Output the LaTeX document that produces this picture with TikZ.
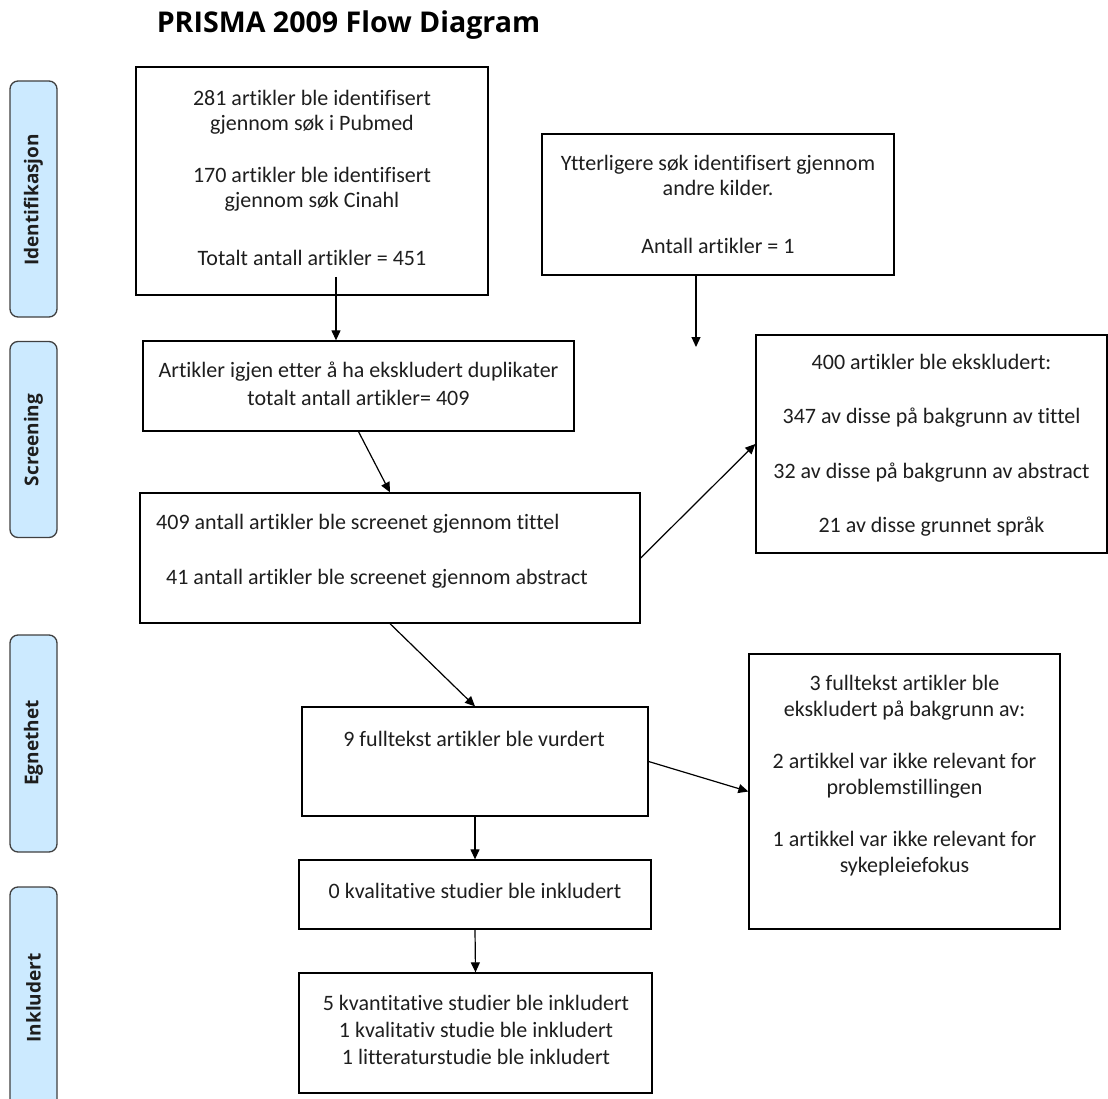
\documentclass[tikz,border=0pt]{standalone}
\usepackage{fontspec}
\setmainfont{Carlito}[Ligatures=NoCommon]
\newfontfamily\headfont{Open Sans}[Ligatures=NoCommon]
\usetikzlibrary{arrows.meta}
\definecolor{bandfill}{RGB}{204,234,255}
\definecolor{bandline}{RGB}{64,64,64}
\definecolor{txtcol}{RGB}{30,30,30}
\begin{document}
\begin{tikzpicture}[x=1pt,y=-1pt,
  box/.style={draw=black, line width=1.3pt, inner sep=0pt, fill=white},
  band/.style={draw=bandline, fill=bandfill, rounded corners=8pt, line width=1.3pt, inner sep=0pt, minimum width=47pt},
  bandtxt/.style={font=\headfont\bfseries\fontsize{19}{23}\selectfont, text=txtcol, rotate=90, inner sep=0pt},
  txt/.style={align=center, font=\fontsize{22}{25}\selectfont, text=txtcol, inner sep=0pt},
  arr/.style={-{Triangle[length=10pt,width=9pt]}, line width=1.2pt}
]
\useasboundingbox (0,0) rectangle (1108,1099);

% title
\node[font=\headfont\bfseries\fontsize{28.6}{33}\selectfont, anchor=base, inner sep=0pt] (title) at (348.5,33) {PRISMA 2009 Flow Diagram};

% side bands
\node[band, minimum height=236pt] (bI) at (33.5,199) {};
\node[band, minimum height=196pt] (bS) at (33.5,439.5) {};
\node[band, minimum height=217pt] (bE) at (33.5,743.5) {};
\node[band, minimum height=228pt] (bK) at (33.5,1001) {};
\node[bandtxt] (lI) at (33.5,200) {Identifikasjon};
\node[bandtxt] (lS) at (33.5,440) {Screening};
\node[bandtxt] (lE) at (33.5,743) {Egnethet};
\node[bandtxt] (lK) at (33.5,998) {Inkludert};

% boxes
\node[box, minimum width=352pt, minimum height=228pt] (A) at (312,181) {};
\node[box, minimum width=352pt, minimum height=141pt] (B) at (718,204.5) {};
\node[box, minimum width=431pt, minimum height=90pt] (C) at (358.5,386) {};
\node[box, minimum width=500pt, minimum height=130pt] (D) at (390,558) {};
\node[box, minimum width=351pt, minimum height=218pt] (E) at (931.5,444) {};
\node[box, minimum width=346pt, minimum height=109pt] (F) at (475,761.5) {};
\node[box, minimum width=352pt, minimum height=69pt] (G) at (475,894.5) {};
\node[box, minimum width=353pt, minimum height=120pt] (H) at (475.5,1033) {};
\node[box, minimum width=311pt, minimum height=275pt] (I) at (904.5,791.5) {};

% texts
\node[txt] (tA) at (312,177.5) {281 artikler ble identifisert\\gjennom søk i Pubmed\\[27pt]170 artikler ble identifisert\\gjennom søk Cinahl\\[33pt]Totalt antall artikler = 451};
\node[txt] (tB) at (718,204) {Ytterligere søk identifisert gjennom\\andre kilder.\\[33pt]Antall artikler = 1};
\node[txt] (tC) at (358.5,384) {Artikler igjen etter å ha ekskludert duplikater\\[3pt]totalt antall artikler= 409};
\node[txt, anchor=base west] (tD1) at (156,529) {409 antall artikler ble screenet gjennom tittel};
\node[txt, anchor=base west] (tD2) at (166,584) {41 antall artikler ble screenet gjennom abstract};
\node[txt] (tE) at (931.5,445) {400 artikler ble ekskludert:\\[29.5pt]347 av disse på bakgrunn av tittel\\[29.5pt]32 av disse på bakgrunn av abstract\\[29.5pt]21 av disse grunnet språk};
\node[txt] (tF) at (474,739) {9 fulltekst artikler ble vurdert};
\node[txt] (tG) at (475,891) {0 kvalitative studier ble inkludert};
\node[txt] (tH) at (476,1029.5) {5 kvantitative studier ble inkludert\\[2pt]1 kvalitativ studie ble inkludert\\[2pt]1 litteraturstudie ble inkludert};
\node[txt] (tI) at (904.5,776) {3 fulltekst artikler ble\\[1pt]ekskludert på bakgrunn av:\\[27pt]2 artikkel var ikke relevant for\\[1pt]problemstillingen\\[27pt]1 artikkel var ikke relevant for\\[1pt]sykepleiefokus};

% connectors
\coordinate (a1) at (336,277);
\draw[arr] (a1) -- (a1 |- C.north);
\coordinate (b1) at (696,347);
\draw[arr] (b1 |- B.south) -- (b1);
\draw[arr] (C.south) -- (D.north);
\draw[arr] (D.east) -- (E.west);
\draw[arr] (D.south) -- (F.north);
\draw[arr] (F.south) -- (G.north);
\draw[arr] (G.south) -- (H.north);
\draw[arr] (F.east) -- (I.west);
\end{tikzpicture}
\end{document}
